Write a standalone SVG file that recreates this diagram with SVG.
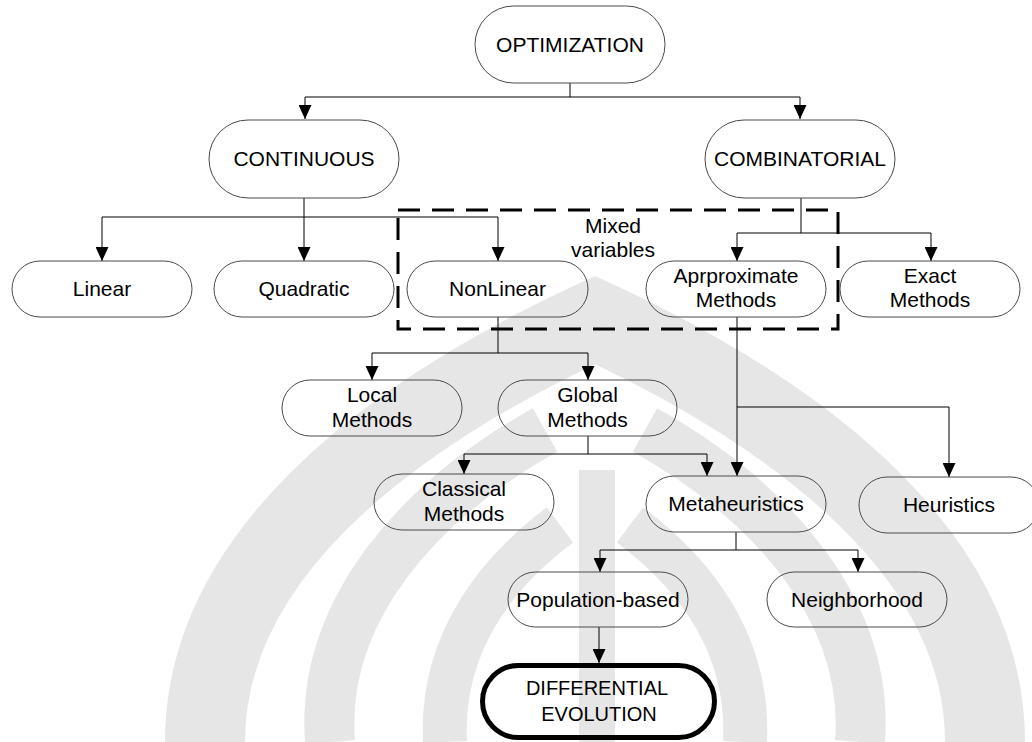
<svg xmlns="http://www.w3.org/2000/svg" width="1032" height="742" viewBox="0 0 1032 742">
  <defs>
    <marker id="arrow" viewBox="0 0 14 13" refX="14" refY="6.5" markerWidth="14" markerHeight="13" markerUnits="userSpaceOnUse" orient="auto">
      <path d="M0,0 L14,6.5 L0,13 Z" fill="#000"/>
    </marker>
    <style>
      .node rect { fill: none; stroke: #4a4a4a; stroke-width: 1; }
      .node text, .label { font-family: "Liberation Sans", Arial, sans-serif; font-size: 21px; fill: #000; text-anchor: middle; }
      .conn path { fill: none; stroke: #000; stroke-width: 1; }
      .conn path.arr { marker-end: url(#arrow); }
      .wm { fill: none; stroke: #e6e6e6; stroke-linecap: butt; }
    </style>
  </defs>

  <rect width="1032" height="742" fill="#fff"/>

  <!-- faint emblem in the background -->
  <g id="emblem">
    <path class="wm" stroke-width="80" d="M205,742 C205,560 380,420 595,320 C810,420 985,560 985,742"/>
    <path class="wm" stroke-width="50" d="M330,742 C320,610 420,500 545,430"/>
    <path class="wm" stroke-width="50" d="M860,742 C870,610 770,500 645,430"/>
    <path class="wm" stroke-width="44" d="M445,742 C440,640 500,570 560,525"/>
    <path class="wm" stroke-width="44" d="M745,742 C750,640 690,570 630,525"/>
    <path class="wm" stroke-width="36" d="M597,742 L597,470"/>
  </g>

  <!-- grouping frame for mixed variables -->
  <rect id="mixed-frame" x="398" y="210" width="440" height="119" fill="none" stroke="#000" stroke-width="3" stroke-dasharray="22 12"/>
  <text class="label" x="613" y="233">Mixed</text>
  <text class="label" x="613" y="257">variables</text>

  <g id="connectors" class="conn">
    <path d="M570,83 V97"/>
    <path d="M570,97 H305 V119" class="arr"/>
    <path d="M570,97 H800 V119" class="arr"/>

    <path d="M304,198 V217"/>
    <path d="M304,217 H102 V261" class="arr"/>
    <path d="M304,217 V261" class="arr"/>
    <path d="M304,217 H498 V261" class="arr"/>

    <path d="M801,198 V233"/>
    <path d="M801,233 H737 V261" class="arr"/>
    <path d="M801,233 H931 V261" class="arr"/>

    <path d="M498,317 V353"/>
    <path d="M498,353 H372 V380" class="arr"/>
    <path d="M498,353 H588 V380" class="arr"/>

    <path d="M588,436 V454"/>
    <path d="M588,454 H464 V474" class="arr"/>
    <path d="M588,454 H707 V476" class="arr"/>

    <path d="M737,317 V476" class="arr"/>
    <path d="M737,407 H949 V477" class="arr"/>

    <path d="M736,532 V550"/>
    <path d="M736,550 H600 V572" class="arr"/>
    <path d="M736,550 H858 V572" class="arr"/>

    <path d="M599,627 V663" class="arr"/>
  </g>

  <g id="optimization" class="node">
    <rect x="475" y="6" width="190" height="77" rx="38.5"/>
    <text x="570" y="52">OPTIMIZATION</text>
  </g>
  <g id="continuous" class="node">
    <rect x="209" y="120" width="190" height="78" rx="39"/>
    <text x="304" y="166">CONTINUOUS</text>
  </g>
  <g id="combinatorial" class="node">
    <rect x="705" y="120" width="190" height="78" rx="39"/>
    <text x="800" y="166">COMBINATORIAL</text>
  </g>
  <g id="linear" class="node">
    <rect x="12" y="261" width="180" height="56" rx="28"/>
    <text x="102" y="296">Linear</text>
  </g>
  <g id="quadratic" class="node">
    <rect x="214" y="261" width="180" height="56" rx="28"/>
    <text x="304" y="296">Quadratic</text>
  </g>
  <g id="nonlinear" class="node">
    <rect x="407" y="261" width="181" height="56" rx="28"/>
    <text x="497.5" y="296">NonLinear</text>
  </g>
  <g id="approximate" class="node">
    <rect x="646" y="261" width="180" height="56" rx="28"/>
    <text x="736" y="283">Aprproximate</text>
    <text x="736" y="307">Methods</text>
  </g>
  <g id="exact" class="node">
    <rect x="840" y="261" width="180" height="56" rx="28"/>
    <text x="930" y="283">Exact</text>
    <text x="930" y="307">Methods</text>
  </g>
  <g id="local" class="node">
    <rect x="282" y="380" width="180" height="56" rx="28"/>
    <text x="372" y="402">Local</text>
    <text x="372" y="427">Methods</text>
  </g>
  <g id="global" class="node">
    <rect x="498" y="380" width="179" height="56" rx="28"/>
    <text x="587.5" y="402">Global</text>
    <text x="587.5" y="427">Methods</text>
  </g>
  <g id="classical" class="node">
    <rect x="374" y="474" width="180" height="56" rx="28"/>
    <text x="464" y="496">Classical</text>
    <text x="464" y="521">Methods</text>
  </g>
  <g id="metaheuristics" class="node">
    <rect x="646" y="476" width="180" height="56" rx="28"/>
    <text x="736" y="511">Metaheuristics</text>
  </g>
  <g id="heuristics" class="node">
    <rect x="859" y="477" width="180" height="56" rx="28"/>
    <text x="949" y="512">Heuristics</text>
  </g>
  <g id="population" class="node">
    <rect x="508" y="572" width="180" height="55" rx="27.5"/>
    <text x="598" y="607">Population-based</text>
  </g>
  <g id="neighborhood" class="node">
    <rect x="767" y="572" width="180" height="55" rx="27.5"/>
    <text x="857" y="607">Neighborhood</text>
  </g>
  <g id="differential-evolution" class="node">
    <rect x="482.5" y="665.5" width="232" height="72" rx="36" style="stroke:#000;stroke-width:5"/>
    <text x="597" y="695" style="font-size:20px">DIFFERENTIAL</text>
    <text x="599" y="721" style="font-size:20px">EVOLUTION</text>
  </g>
</svg>
